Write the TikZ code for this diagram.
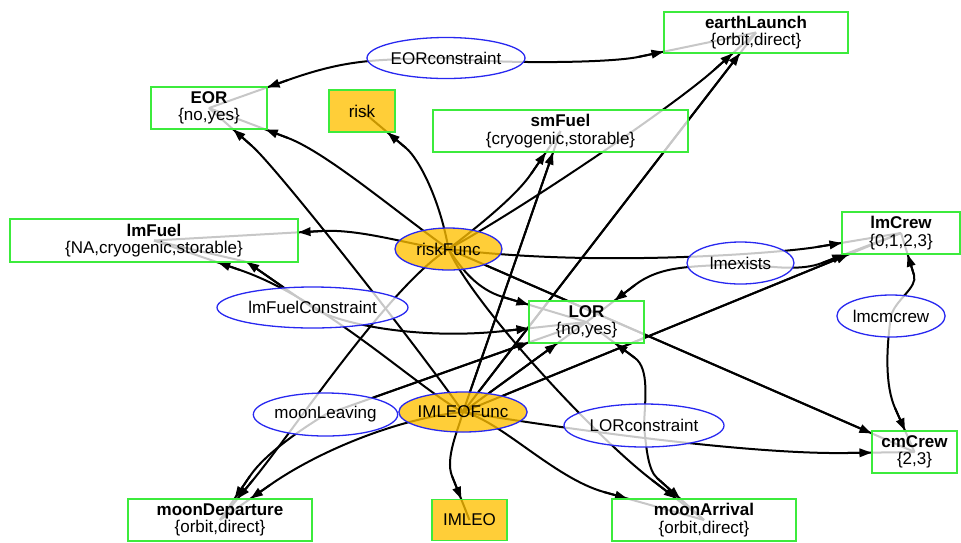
\documentclass[tikz,border=0pt]{standalone}
\usepackage{fontspec}
\setmainfont{Liberation Sans}
\usetikzlibrary{shapes.geometric,arrows.meta,calc,backgrounds}
\definecolor{vgreen}{RGB}{60,235,60}
\definecolor{cblue}{RGB}{40,40,240}
\definecolor{forange}{RGB}{255,192,0}
\newcommand\mainfnt{\fontsize{17}{17.5}\selectfont}
\tikzset{
  vbox/.style={rectangle, draw=vgreen, line width=1.1pt, fill=white, fill opacity=0.78, text opacity=1, align=center, inner sep=0pt, font=\mainfnt},
  obox/.style={vbox, fill=forange},
  cell/.style={ellipse, draw=cblue, line width=1.3pt, fill=white, fill opacity=0.78, text opacity=1, inner sep=0pt, font=\mainfnt},
  fell/.style={cell, fill=forange},
  edgeline/.style={line width=2pt, black},
  tipped/.style={-{Triangle[length=12pt,width=8.5pt]}}
}
\newcommand\sedge[2]{%
  \draw[edgeline] (#1.center) -- (#2.center);
  \draw[edgeline,tipped] (#1) -- (#2);}
\newcommand\cedge[5]{%
  \draw[edgeline] (#1.center) .. controls (#2) and ($(#3)!-#5!(#4.center)$) .. (#3) -- (#4.center);
  \draw[edgeline,tipped] (#3) -- (#4);}
\begin{document}
\begin{tikzpicture}[x=1pt,y=-1pt]
\useasboundingbox (0,0) rectangle (961,542);
% variable boxes
\node[vbox, minimum width=184pt, minimum height=41pt] (earthLaunch) at (756,32.5) {\textbf{earthLaunch}\\\{orbit,direct\}};
\node[vbox, minimum width=116pt, minimum height=42pt] (EOR) at (209,108) {\textbf{EOR}\\\{no,yes\}};
\node[obox, minimum width=66pt, minimum height=42pt] (risk) at (362,111) {risk};
\node[vbox, minimum width=255pt, minimum height=42pt] (smFuel) at (560.5,131) {\textbf{smFuel}\\\{cryogenic,storable\}};
\node[vbox, minimum width=288pt, minimum height=43pt] (lmFuel) at (154,240.5) {\textbf{lmFuel}\\\{NA,cryogenic,storable\}};
\node[vbox, minimum width=118pt, minimum height=42pt] (lmCrew) at (901,233) {\textbf{lmCrew}\\\{0,1,2,3\}};
\node[vbox, minimum width=115pt, minimum height=42pt] (LOR) at (586.5,322) {\textbf{LOR}\\\{no,yes\}};
\node[vbox, minimum width=85pt, minimum height=42pt] (cmCrew) at (914.5,452) {\textbf{cmCrew}\\\{2,3\}};
\node[vbox, minimum width=184pt, minimum height=42pt] (moonDeparture) at (220,520) {\textbf{moonDeparture}\\\{orbit,direct\}};
\node[obox, minimum width=75pt, minimum height=41pt] (IMLEO) at (469.5,520) {IMLEO};
\node[vbox, minimum width=184pt, minimum height=42pt] (moonArrival) at (704,520) {\textbf{moonArrival}\\\{orbit,direct\}};
% constraint / function ellipses
\node[cell, minimum width=158pt, minimum height=41pt] (EORconstraint) at (446,58) {EORconstraint};
\node[fell, minimum width=107pt, minimum height=42pt] (riskFunc) at (448.5,249) {riskFunc};
\node[cell, minimum width=107pt, minimum height=42pt] (lmexists) at (740.5,263) {lmexists};
\node[cell, minimum width=191pt, minimum height=41pt] (lmFuelConstraint) at (312.5,307.5) {lmFuelConstraint};
\node[cell, minimum width=108pt, minimum height=42pt] (lmcmcrew) at (891,316) {lmcmcrew};
\node[cell, minimum width=139pt, minimum height=43pt] (moonLeaving) at (325.5,414.5) {moonLeaving};
\node[fell, minimum width=116pt, minimum height=40pt] (IMLEOFunc) at (463,412) {IMLEOFunc};
\node[cell, minimum width=160pt, minimum height=43pt] (LORconstraint) at (644,425.5) {LORconstraint};
\coordinate (lfTip) at (247,262);
\begin{pgfonlayer}{background}
\cedge{EORconstraint}{380,60}{288,80}{EOR}{0.8}
\cedge{EORconstraint}{500,64}{638,57}{earthLaunch}{0.25}
\cedge{riskFunc}{440,200}{406,148}{risk}{0.3}
\cedge{riskFunc}{400,215}{288,138}{EOR}{0.5}
\cedge{riskFunc}{420,248}{322,231}{lmFuel}{0.25}
\cedge{riskFunc}{480,225}{531,174}{smFuel}{0.5}
\cedge{riskFunc}{520,210}{714,70}{earthLaunch}{1}
\cedge{riskFunc}{600,268}{817,247}{lmCrew}{0.4}
\cedge{riskFunc}{462,270}{503,297}{LOR}{0.3}
\sedge{riskFunc}{cmCrew}
\cedge{riskFunc}{470,300}{652,480}{moonArrival}{1.2}
\cedge{riskFunc}{390,285}{253,480}{moonDeparture}{1.2}
\sedge{IMLEOFunc}{lmCrew}
\sedge{IMLEOFunc}{earthLaunch}
\sedge{IMLEOFunc}{smFuel}
\cedge{IMLEOFunc}{420,350}{252,146}{EOR}{0.6}
\sedge{IMLEOFunc}{LOR}
\cedge{IMLEOFunc}{400,418}{270,485}{moonDeparture}{1}
\cedge{IMLEOFunc}{458,430}{452,476}{IMLEO}{0.4}
\cedge{IMLEOFunc}{500,420}{604,492}{moonArrival}{0.5}
\cedge{IMLEOFunc}{560,428}{847,453}{cmCrew}{1.5}
\cedge{IMLEOFunc}{420,390}{240,270}{lmFuel}{1}
\draw[edgeline] (lmFuelConstraint.center) -- (lfTip) -- (lmFuel.center);
\draw[edgeline,tipped] (lmFuelConstraint) -- (lfTip);
\cedge{lmFuelConstraint}{340,325}{504,331}{LOR}{1}
\sedge{moonLeaving}{LOR}
\cedge{moonLeaving}{300,430}{250,476}{moonDeparture}{0.5}
\cedge{lmexists}{700,268}{635,285}{LOR}{0.6}
\cedge{lmexists}{775,268}{822,263}{lmCrew}{0.25}
\cedge{lmcmcrew}{895,300}{914,275}{lmCrew}{0.3}
\cedge{lmcmcrew}{886,350}{895,408}{cmCrew}{0.5}
\cedge{LORconstraint}{645,400}{635,358}{LOR}{0.3}
\cedge{LORconstraint}{646,445}{657,478}{moonArrival}{0.2}
\end{pgfonlayer}
\end{tikzpicture}
\end{document}
